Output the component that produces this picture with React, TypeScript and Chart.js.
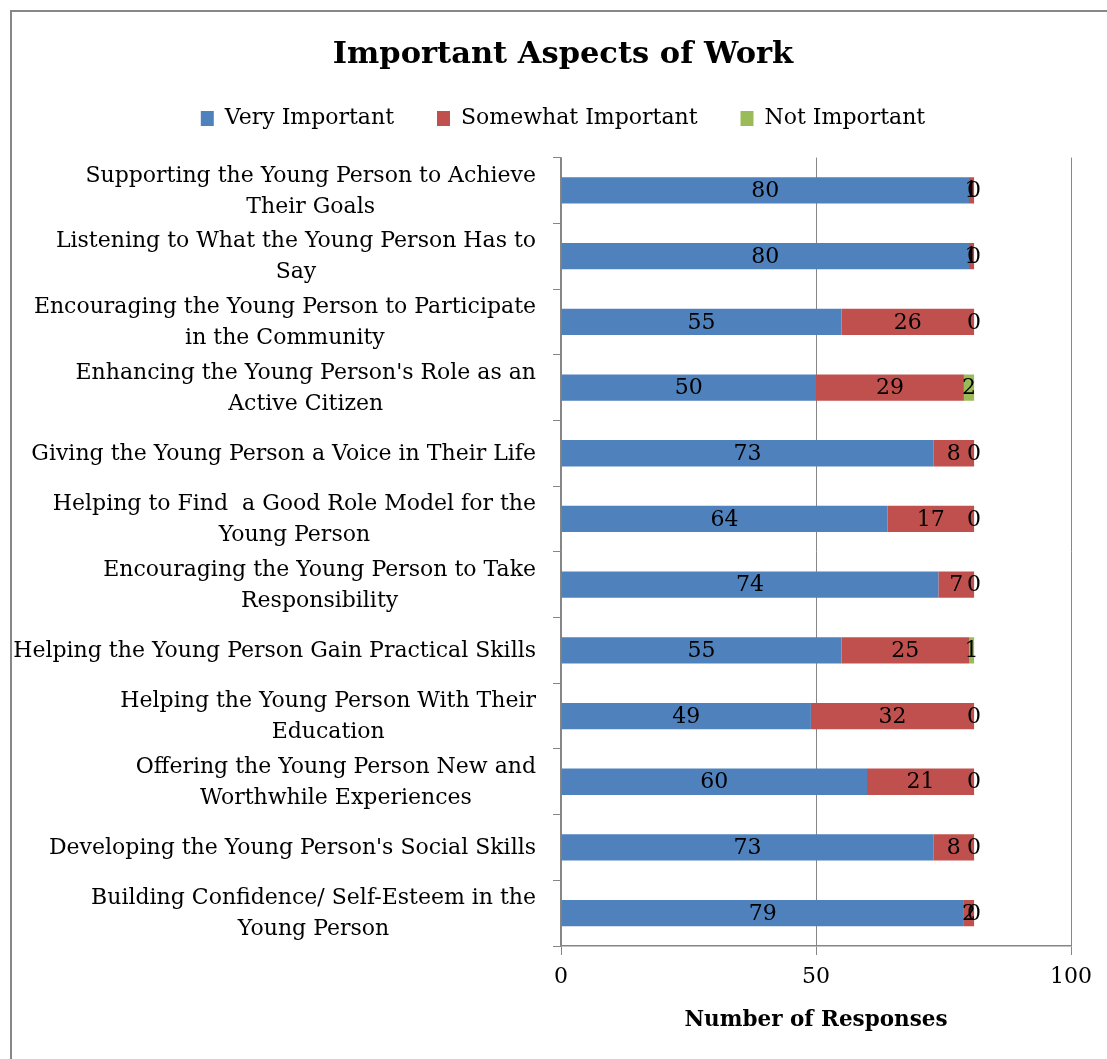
import React, { useEffect, useRef } from "react";
import { Chart, registerables } from "chart.js";

Chart.register(...registerables);

const FONT = "'DejaVu Serif', serif";

const categories: string[][] = [
  ["Supporting the Young Person to Achieve", "Their Goals"],
  ["Listening to What the Young Person Has to", "Say"],
  ["Encouraging the Young Person to Participate", "in the Community"],
  ["Enhancing the Young Person's Role as an", "Active Citizen"],
  ["Giving the Young Person a Voice in Their Life"],
  ["Helping to Find  a Good Role Model for the", "Young Person"],
  ["Encouraging the Young Person to Take", "Responsibility"],
  ["Helping the Young Person Gain Practical Skills"],
  ["Helping the Young Person With Their", "Education"],
  ["Offering the Young Person New and", "Worthwhile Experiences"],
  ["Developing the Young Person's Social Skills"],
  ["Building Confidence/ Self-Esteem in the", "Young Person"],
];

const veryImportant = [80, 80, 55, 50, 73, 64, 74, 55, 49, 60, 73, 79];
const somewhatImportant = [1, 1, 26, 29, 8, 17, 7, 25, 32, 21, 8, 2];
const notImportant = [0, 0, 0, 2, 0, 0, 0, 1, 0, 0, 0, 0];

const seriesNames = ["Very Important", "Somewhat Important", "Not Important"];
const seriesColors = ["#4F81BD", "#C0504D", "#9BBB59"];
const xMin = 0;
const xMax = 100;
const xStep = 50;

const legendSpacer = {
  id: "legendSpacer",
  beforeLayout(chart: any) {
    const lg = chart.legend;
    if (lg && !lg.__patched) {
      const orig = lg.fit.bind(lg);
      lg.fit = function () {
        orig();
        this.height += 18;
      };
      lg.__patched = true;
    }
  },
};

const dataLabels = {
  id: "dataLabels",
  afterDatasetsDraw(chart: any) {
    const ctx = chart.ctx;
    ctx.save();
    ctx.font = `22px ${FONT}`;
    ctx.fillStyle = "#000";
    ctx.textAlign = "center";
    ctx.textBaseline = "middle";
    chart.data.datasets.forEach((ds: any, di: number) => {
      const meta = chart.getDatasetMeta(di);
      meta.data.forEach((el: any, i: number) => {
        const p = el.getProps(["x", "y", "base"], true);
        ctx.fillText(String(ds.data[i]), (p.x + p.base) / 2, p.y + 1);
      });
    });
    ctx.restore();
  },
};

const yLabels = {
  id: "yLabels",
  afterDraw(chart: any) {
    const s = chart.scales.y;
    const ctx = chart.ctx;
    ctx.save();
    ctx.font = `22px ${FONT}`;
    ctx.fillStyle = "#000";
    ctx.textAlign = "center";
    ctx.textBaseline = "middle";
    const right = s.right - 25;
    const lh = 31;
    categories.forEach((lines, i) => {
      const y = s.getPixelForTick(i) + 1;
      const w = Math.max(...lines.map((l) => ctx.measureText(l).width));
      const cx = right - w / 2;
      lines.forEach((l, j) => {
        ctx.fillText(l, cx, y + (j - (lines.length - 1) / 2) * lh);
      });
    });
    ctx.restore();
  },
};

export default function App() {
  const ref = useRef<HTMLCanvasElement | null>(null);

  useEffect(() => {
    if (!ref.current) return;
    const values = [veryImportant, somewhatImportant, notImportant];
    const chart = new Chart(ref.current, {
      type: "bar",
      data: {
        labels: categories,
        datasets: seriesNames.map((name, i) => ({
          label: name,
          data: values[i],
          backgroundColor: seriesColors[i],
          borderWidth: 0,
          barPercentage: 0.4,
          categoryPercentage: 1,
        })),
      },
      options: {
        indexAxis: "y",
        responsive: true,
        maintainAspectRatio: false,
        animation: false,
        layout: { padding: { left: 43, right: 43, top: 0, bottom: 0 } },
        plugins: {
          title: {
            display: true,
            text: "Important Aspects of Work",
            color: "#000",
            font: { family: FONT, size: 30.5, weight: "bold", lineHeight: 1.2 },
            padding: { top: 25, bottom: -9 },
          },
          legend: {
            position: "top",
            labels: {
              color: "#000",
              font: { family: FONT, size: 22 },
              boxWidth: 13,
              boxHeight: 15,
              padding: 43,
            },
          },
          tooltip: { enabled: false },
        },
        scales: {
          x: {
            stacked: true,
            min: xMin,
            max: xMax,
            ticks: {
              stepSize: xStep,
              color: "#000",
              font: { family: FONT, size: 22 },
              padding: 9,
              maxRotation: 0,
            },
            grid: { color: "#868686", lineWidth: 1, tickLength: 9, drawTicks: true },
            border: { color: "#868686", width: 1.5 },
            title: {
              display: true,
              text: "Number of Responses",
              color: "#000",
              font: { family: FONT, size: 21.5, weight: "bold" },
              padding: { top: 0, bottom: 39 },
            },
            afterFit(s: any) {
              s.height = 126;
            },
          },
          y: {
            stacked: true,
            ticks: { display: false },
            grid: { color: "#868686", drawOnChartArea: false, tickLength: 8, offset: true },
            border: { color: "#868686", width: 1.5 },
            afterFit(s: any) {
              s.width = 506;
            },
          },
        },
      } as any,
      plugins: [legendSpacer, dataLabels, yLabels],
    });
    return () => chart.destroy();
  }, []);

  return (
    <div
      style={{
        position: "fixed",
        left: 0,
        top: 0,
        width: 1107,
        height: 1059,
        overflow: "hidden",
        background: "#fff",
      }}
    >
      <div
        style={{
          position: "absolute",
          left: 10,
          top: 10,
          width: 1120,
          height: 1100,
          border: "2px solid #878787",
          boxSizing: "content-box",
        }}
      >
        <div style={{ position: "absolute", left: 0, top: 0, width: 1102, height: 1060 }}>
          <canvas ref={ref} />
        </div>
      </div>
    </div>
  );
}
